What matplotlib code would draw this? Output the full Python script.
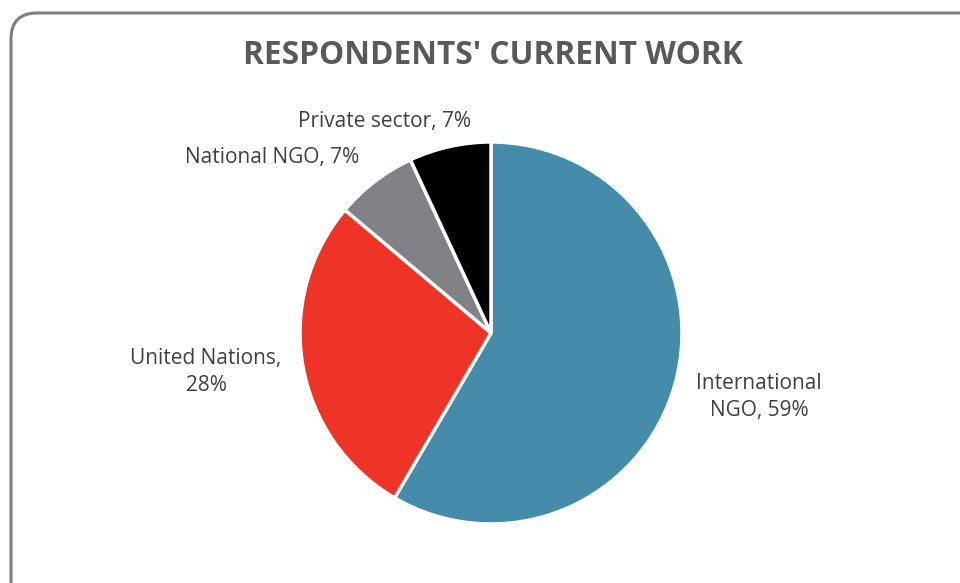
import matplotlib as mpl
mpl.use("Agg")
import matplotlib.pyplot as plt
from matplotlib.patches import FancyBboxPatch

mpl.rcParams['font.family'] = ['Open Sans', 'DejaVu Sans']

# survey shares, clockwise from 12 o'clock
categories = ['International NGO', 'United Nations', 'National NGO', 'Private sector']
shares = [59, 28, 7, 7]
colors = ['#458BAA', '#EE3427', '#808285', '#000000']
label_text = ['International\nNGO, 59%', 'United Nations,\n28%', 'National NGO, 7%', 'Private sector, 7%']

# label anchor points in figure pixels (x, y from top)
label_pos = [(759, 397), (206, 372), (272, 158), (384, 122)]

W, H = 960, 583
fig = plt.figure(figsize=(W / 100, H / 100), dpi=100)
ax = fig.add_axes([0, 0, 1, 1])
ax.set_xlim(0, W)
ax.set_ylim(0, H)
ax.set_aspect('equal')
ax.axis('off')

# rounded frame around the chart area
frame = FancyBboxPatch((11, -40), 975, H - 12 + 40 - 1,
                       boxstyle="round,pad=0,rounding_size=26",
                       facecolor='white', edgecolor='#7F7F7F', linewidth=2.2)
ax.add_patch(frame)

cx, cy, r = 491, H - 333, 191
ax.pie(shares, colors=colors, startangle=90, counterclock=False,
       center=(cx, cy), radius=r, frame=True,
       wedgeprops=dict(edgecolor='white', linewidth=2.5))
ax.set_xlim(0, W)
ax.set_ylim(0, H)
ax.axis('off')

for txt, (x, y) in zip(label_text, label_pos):
    ax.text(x, H - y, txt, ha='center', va='center', fontsize=15,
            color='#404040', linespacing=1.4)

ax.text(493, H - 55, "RESPONDENTS' CURRENT WORK", ha='center', va='center',
        fontsize=22.8, fontweight='bold', color='#595959')

fig.savefig('out.png', dpi=100)
